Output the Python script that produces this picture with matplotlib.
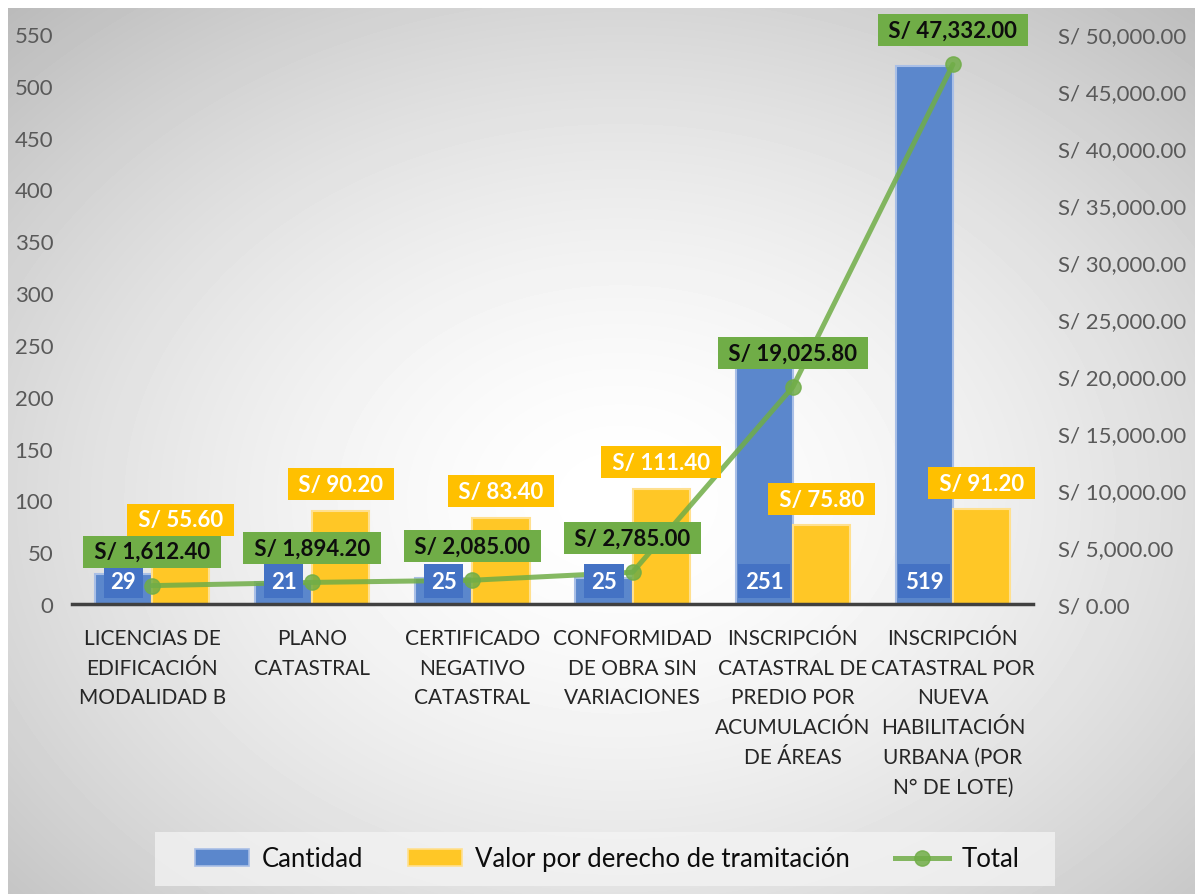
import numpy as np
import matplotlib
matplotlib.use("Agg")
import matplotlib.pyplot as plt
from matplotlib.patches import Patch, Rectangle
from matplotlib.lines import Line2D
from matplotlib.ticker import FuncFormatter, MultipleLocator

categories = [
    "LICENCIAS DE\nEDIFICACIÓN\nMODALIDAD B",
    "PLANO\nCATASTRAL",
    "CERTIFICADO\nNEGATIVO\nCATASTRAL",
    "CONFORMIDAD\nDE OBRA SIN\nVARIACIONES",
    "INSCRIPCIÓN\nCATASTRAL DE\nPREDIO POR\nACUMULACIÓN\nDE ÁREAS",
    "INSCRIPCIÓN\nCATASTRAL POR\nNUEVA\nHABILITACIÓN\nURBANA (POR\nN° DE LOTE)",
]
cantidad = [29, 21, 25, 25, 251, 519]
valor = [55.60, 90.20, 83.40, 111.40, 75.80, 91.20]
total = [1612.40, 1894.20, 2085.00, 2785.00, 19025.80, 47332.00]

series_names = ["Cantidad", "Valor por derecho de tramitación", "Total"]

FONT = ["Lato", "DejaVu Sans"]
plt.rcParams["font.family"] = FONT

W, H = 1195, 895
fig = plt.figure(figsize=(W / 100, H / 100), dpi=100)
fig.patch.set_facecolor("white")

# background radial gradient
bg = fig.add_axes([8 / W, 0, 1 - 8 / W, 886 / H], zorder=-5)
yy, xx = np.mgrid[0:886, 0:1187]
cx, cy = 612, 491
d = np.sqrt(((xx - cx) / 740) ** 2 + ((yy - cy) / 560) ** 2)
v = 1 - 0.2 * np.clip(d, 0, 1.4) ** 1.6
bg.imshow(v, cmap="gray", vmin=0, vmax=1, aspect="auto", interpolation="bilinear")
bg.axis("off")

# main axes
left, right = 72 / W, 1033 / W
bottom, top = (H - 605) / H, (H - 35) / H
ax = fig.add_axes([left, bottom, right - left, top - bottom])
ax.set_facecolor("none")
ax2 = ax.twinx()
ax2.set_facecolor("none")

x = np.arange(len(categories))
bw = 0.357
blue = "#5B87CC"
yellow = "#FFC726"
green = "#70AD47"

ax.bar(x - bw / 2, cantidad, bw, color=blue, edgecolor="#A9BFE6", linewidth=1.5, zorder=2)
ax.bar(x + bw / 2, valor, bw, color=yellow, edgecolor="#FFE08F", linewidth=1.5, zorder=2)

ax.set_xlim(-0.5, len(categories) - 0.5)
ax.set_ylim(0, 550)
ax.yaxis.set_major_locator(MultipleLocator(50))
ax2.set_ylim(0, 50000)
ax2.yaxis.set_major_locator(MultipleLocator(5000))
ax2.yaxis.set_major_formatter(FuncFormatter(lambda val, p: f"S/ {val:,.2f}"))

for a in (ax, ax2):
    for s in a.spines.values():
        s.set_visible(False)
ax.spines["bottom"].set_visible(True)
ax.spines["bottom"].set_color("#404040")
ax.spines["bottom"].set_linewidth(2.5)

ax.tick_params(axis="y", length=0, pad=13.5, labelsize=16, labelcolor="#595959")
ax2.tick_params(axis="y", length=0, pad=18, labelsize=16, labelcolor="#595959")
ax.set_xticks(x)
ax.set_xticklabels(categories, fontsize=15, color="#262626", linespacing=1.62)
ax.tick_params(axis="x", length=0, pad=17)

# line
ax2.plot(x, total, color=green, lw=3.6, marker="o", ms=11, alpha=0.85, zorder=2,
         solid_capstyle="round")

lbl_size = 16
for i in range(len(categories)):
    ax2.annotate(f"{cantidad[i]}", xy=(x[i] - bw / 2, 0), xycoords=ax.transData,
                 xytext=(0, 16.5), textcoords="offset points", ha="center", va="center",
                 fontsize=lbl_size, fontweight="bold", color="white", zorder=3,
                 bbox=dict(boxstyle="square,pad=0.3", fc="#4472C4", ec="none"))
    ax2.annotate(f" S/ {valor[i]:,.2f} ", xy=(x[i] + bw / 2, valor[i]), xycoords=ax.transData,
                 xytext=(0, 19), textcoords="offset points", ha="center", va="center",
                 fontsize=lbl_size, fontweight="bold", color="white", zorder=3,
                 bbox=dict(boxstyle="square,pad=0.25", fc="#FFC000", ec="none"))
for i in range(len(categories)):
    ax2.annotate(f" S/ {total[i]:,.2f} ", xy=(x[i], total[i]), xycoords=ax2.transData,
                 xytext=(0, 24.5), textcoords="offset points", ha="center", va="center",
                 fontsize=lbl_size, fontweight="bold", color="#0D0D0D", zorder=4,
                 bbox=dict(boxstyle="square,pad=0.25", fc=green, ec="none"))

# legend
fig.patches.append(Rectangle((155 / W, (H - 887) / H), 900 / W, 54 / H,
                             transform=fig.transFigure, fc="#F4F4F4", ec="none",
                             alpha=0.75, zorder=0))
handles = [
    Patch(fc=blue, ec="#A9BFE6", lw=1.2),
    Patch(fc=yellow, ec="#FFE08F", lw=1.2),
    Line2D([], [], color=green, lw=3.6, marker="o", ms=11, alpha=0.85),
]
leg = fig.legend(handles, series_names, loc="center", bbox_to_anchor=(607 / W, (H - 860) / H),
                 ncol=3, frameon=False, fontsize=18.5, handlelength=2.1, handleheight=0.6,
                 handletextpad=0.5, columnspacing=1.75, labelcolor="#0D0D0D")

fig.savefig("out.png", dpi=100, facecolor=fig.get_facecolor())
